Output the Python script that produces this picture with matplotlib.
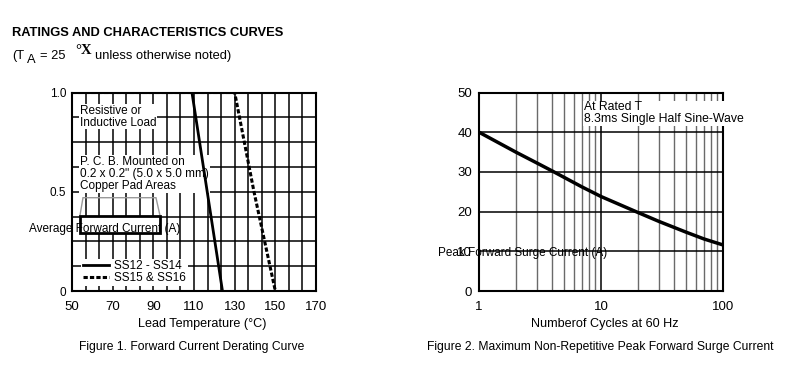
import matplotlib
matplotlib.use('Agg')
import matplotlib.pyplot as plt
import numpy as np
from matplotlib.patches import Rectangle, Polygon
from matplotlib.ticker import NullFormatter

# Figure 1: derating curve
temp_ss12 = [50, 109, 124]
curr_ss12 = [1.0, 1.0, 0.0]
temp_ss15 = [50, 130, 139.5, 150]
curr_ss15 = [1.0, 1.0, 0.5, 0.0]
temp_ticks = [50, 70, 90, 110, 130, 150, 170]
curr_ticks = [0, 0.5, 1.0]
curr_ticklabels = ['0', '0.5', '1.0']

# Figure 2: surge current
cycles = [1, 2, 3, 4, 5, 7, 10, 20, 30, 50, 70, 100]
surge = [40, 35.0, 32.2, 30.2, 28.6, 26.2, 23.8, 19.8, 17.5, 14.8, 13.1, 11.6]
cycle_ticks = [1, 10, 100]
cycle_ticklabels = ['1', '10', '100']
surge_ticks = [0, 10, 20, 30, 40, 50]

# little package sketch on figure 1
pkg_body = (53.9, 0.293, 39.4, 0.086)   # x, y, w, h
pkg_top = [(53.9, 0.379), (55.4, 0.47), (91.3, 0.47), (93.3, 0.379)]

plt.rcParams['font.family'] = ['Liberation Sans', 'DejaVu Sans']

fig = plt.figure(figsize=(7.99, 3.8), dpi=100)
ax1 = fig.add_axes([72/799, 1-291/380, 244/799, 198.5/380])
ax2 = fig.add_axes([479/799, 1-291/380, 244/799, 198.5/380])

# ---- figure 1
ax1.set_xlim(50, 170)
ax1.set_ylim(0, 1)
ax1.set_xticks(temp_ticks)
ax1.set_xticks(np.arange(50, 171, 20/3), minor=True)
ax1.set_yticks(curr_ticks, curr_ticklabels)
ax1.set_yticks(np.arange(0, 1.01, 0.125), minor=True)
ax1.grid(which='both', color='black', lw=1.1)
ax1.tick_params(which='both', length=0)
ax1.tick_params(axis='x', pad=7, labelsize=9.5)
ax1.tick_params(axis='y', pad=4, labelsize=8.5)
for s in ax1.spines.values():
    s.set_linewidth(1.5)

ax1.plot(temp_ss12, curr_ss12, color='black', lw=2, zorder=4, label='SS12 - SS14')
ax1.plot(temp_ss15, curr_ss15, color='black', lw=2.2, ls=(0, (1.4, 0.7)), zorder=4,
         label='SS15 & SS16')

box = dict(facecolor='white', edgecolor='none', pad=0.5)
ax1.text(54, 0.877, 'Resistive or\nInductive Load', fontsize=8.5, va='center',
         linespacing=0.95, bbox=box, zorder=3)
ax1.text(54, 0.59, 'P. C. B. Mounted on\n0.2 x 0.2" (5.0 x 5.0 mm)\nCopper Pad Areas',
         fontsize=8.5, va='center', linespacing=1.0, bbox=box, zorder=3)

ax1.add_patch(Polygon(pkg_top, closed=False, fill=False, edgecolor='#999999', lw=1, zorder=3))
ax1.add_patch(Rectangle(pkg_body[:2], pkg_body[2], pkg_body[3], facecolor='white',
                        edgecolor='black', lw=2, zorder=3))
ax1.text(66.2, 0.31, 'Average Forward Current (A)', fontsize=8.5, ha='center',
         va='center', zorder=5, clip_on=False)

leg = ax1.legend(loc='lower left', bbox_to_anchor=(0.012, -0.005), fontsize=8.5,
                 handlelength=2.2, handletextpad=0.45, labelspacing=0.0,
                 borderpad=0.15, frameon=True, fancybox=False, framealpha=1)
leg.get_frame().set_edgecolor('none')
leg.set_zorder(3)

ax1.set_xlabel('Lead Temperature (°C)', fontsize=9.1)
ax1.xaxis.set_label_coords(0.533, -0.135)

# ---- figure 2
ax2.set_xscale('log')
ax2.set_xlim(1, 100)
ax2.set_ylim(0, 50)
ax2.set_xticks(cycle_ticks, cycle_ticklabels)
ax2.xaxis.set_minor_formatter(NullFormatter())
ax2.set_yticks(surge_ticks)
ax2.grid(which='major', color='black', lw=1.1)
ax2.grid(which='minor', axis='x', color='#6a6a6a', lw=1)
ax2.tick_params(which='both', length=0)
ax2.tick_params(axis='x', pad=7, labelsize=9.5)
ax2.tick_params(axis='y', pad=5, labelsize=9.5)
for s in ax2.spines.values():
    s.set_linewidth(1.5)

ax2.plot(cycles, surge, color='black', lw=2.5, zorder=4)
ax2.text(0.43, 0.895, 'At Rated T\n8.3ms Single Half Sine-Wave', transform=ax2.transAxes,
         fontsize=8.8, va='center', linespacing=1.0, bbox=box, zorder=3, clip_on=False)
ax2.text(0.18, 0.19, 'Peak Forward Surge Current (A)', transform=ax2.transAxes,
         fontsize=8.5, ha='center', va='center', zorder=5, clip_on=False)
ax2.set_xlabel('Numberof Cycles at 60 Hz', fontsize=9.1)
ax2.xaxis.set_label_coords(0.516, -0.135)

# ---- header and captions
fig.text(12/799, 1-33/380, 'RATINGS AND CHARACTERISTICS CURVES', fontsize=9.3,
         fontweight='bold', va='center')
fig.text(12/799, 1-56/380, '(T', fontsize=9.3, va='center')
fig.text(27/799, 1-60/380, 'A', fontsize=9.3, va='center')
fig.text(40/799, 1-56/380, '= 25', fontsize=9.3, va='center')
fig.text(75/799, 1-51/380, '°X', fontsize=10.5, va='center', fontweight='bold',
         family=['Liberation Serif', 'DejaVu Serif'])
fig.text(95/799, 1-56/380, 'unless otherwise noted)', fontsize=9.3, va='center')

fig.text(192/799, 1-347/380, 'Figure 1. Forward Current Derating Curve', fontsize=8.75,
         ha='center', va='center')
fig.text(600/799, 1-347/380, 'Figure 2. Maximum Non-Repetitive Peak Forward Surge Current',
         fontsize=8.75, ha='center', va='center')

fig.savefig('out.png', dpi=100)
